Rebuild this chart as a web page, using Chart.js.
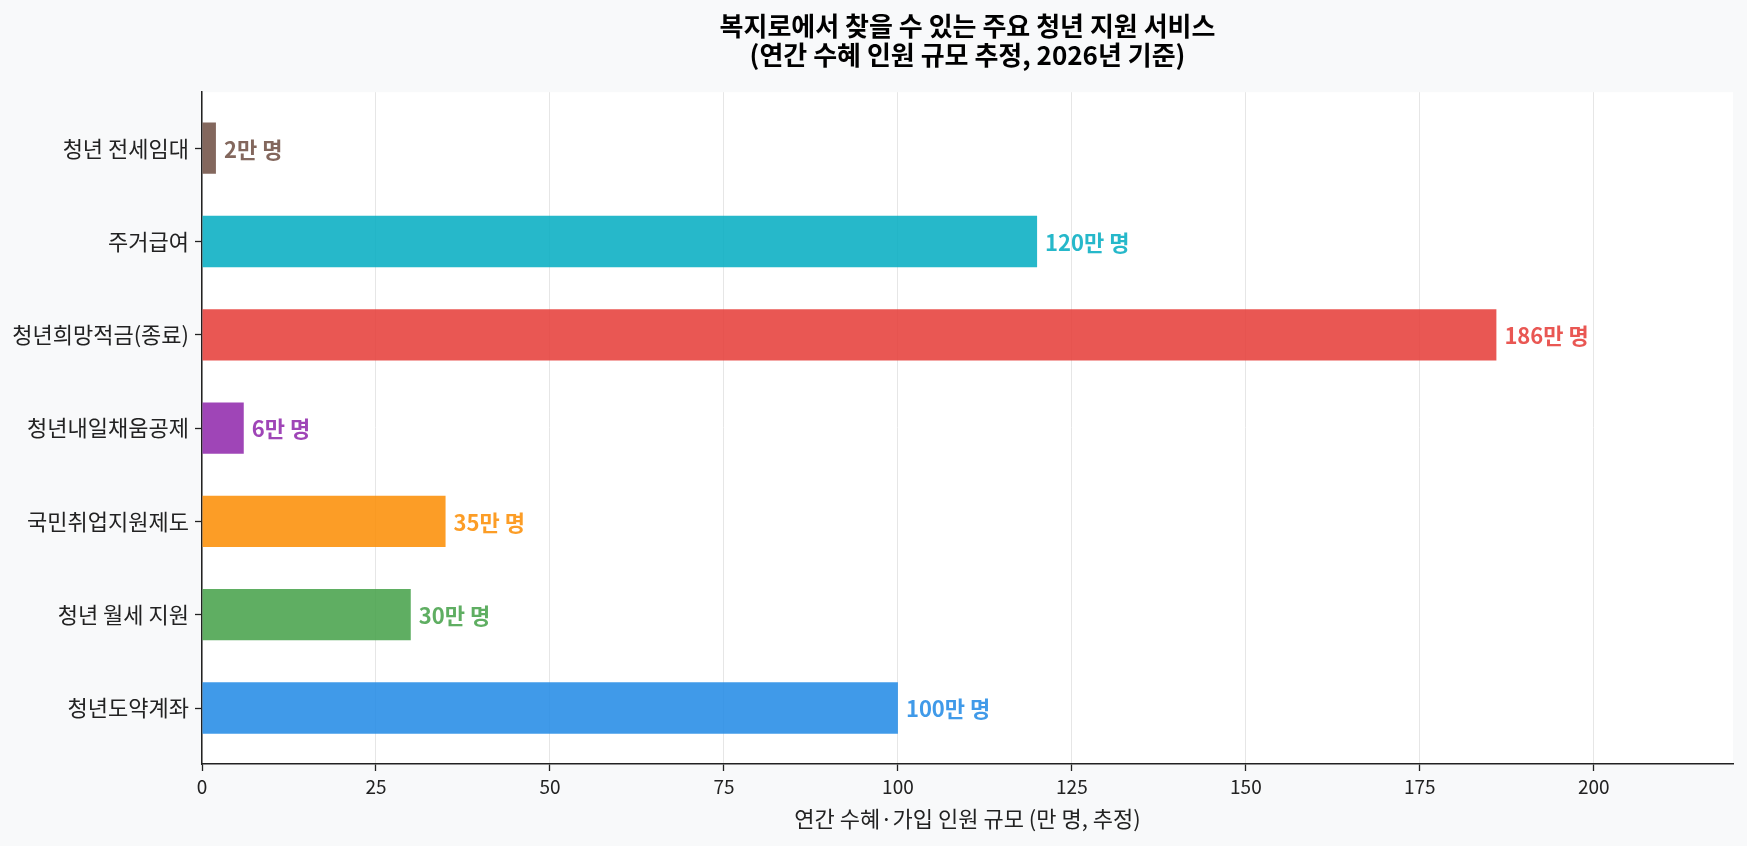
<!DOCTYPE html>
<html>
<head>
<meta charset="utf-8">
<script src="https://cdn.jsdelivr.net/npm/chart.js@4/dist/chart.umd.min.js"></script>
<style>
  html, body { margin: 0; padding: 0; background: #f8f9fa; }
  #wrap { width: 1747px; height: 846px; }
</style>
</head>
<body>
<div id="wrap"><canvas id="chart" width="1747" height="846"></canvas></div>
<script>
// top to bottom, as in the picture
let services = ['청년 전세임대', '주거급여', '청년희망적금(종료)', '청년내일채움공제', '국민취업지원제도', '청년 월세 지원', '청년도약계좌'];
let people = [2, 120, 186, 6, 35, 30, 100];
let baseColors = ['#6D4C41', '#00ACC1', '#E53935', '#8E24AA', '#FB8C00', '#43A047', '#1E88E5'];
let xTicks = [0, 25, 50, 75, 100, 125, 150, 175, 200];

const FONT = '"Noto Sans CJK KR", "Noto Sans", sans-serif';

function withAlpha(hex, a) {
  let n = parseInt(hex.slice(1), 16);
  return 'rgba(' + (n >> 16) + ',' + ((n >> 8) & 255) + ',' + (n & 255) + ',' + a + ')';
}
let barColors = baseColors.map(c => withAlpha(c, 0.85));

// white plot area on grey page
const plotBg = {
  id: 'plotBg',
  beforeDraw(chart) {
    let ctx = chart.ctx, a = chart.chartArea;
    ctx.save();
    ctx.fillStyle = '#f8f9fa';
    ctx.fillRect(0, 0, chart.width, chart.height);
    ctx.fillStyle = '#ffffff';
    ctx.fillRect(a.left, a.top, a.right - a.left, a.bottom - a.top);
    ctx.restore();
  }
};

const valueLabels = {
  id: 'valueLabels',
  afterDatasetsDraw(chart) {
    let ctx = chart.ctx;
    let meta = chart.getDatasetMeta(0);
    ctx.save();
    ctx.font = 'bold 22px ' + FONT;
    ctx.textBaseline = 'middle';
    ctx.textAlign = 'left';
    meta.data.forEach((bar, i) => {
      ctx.fillStyle = barColors[i];
      ctx.fillText(people[i] + '만 명', bar.x + 8, bar.y + 1);
    });
    ctx.restore();
  }
};

let myChart = new Chart(document.getElementById('chart'), {
  type: 'bar',
  data: {
    datasets: [{
      data: people.map((v, i) => ({ x: v, y: i })),
      backgroundColor: barColors,
      borderWidth: 0,
      categoryPercentage: 1,
      barPercentage: 0.55
    }]
  },
  options: {
    indexAxis: 'y',
    responsive: false,
    animation: false,
    layout: { padding: { left: 0, right: 14, top: 0, bottom: 0 } },
    plugins: {
      legend: { display: false },
      tooltip: { enabled: false },
      title: {
        display: true,
        fullSize: false,
        text: ['복지로에서 찾을 수 있는 주요 청년 지원 서비스', '(연간 수혜 인원 규모 추정, 2026년 기준)'],
        color: '#000',
        font: { family: FONT, size: 26, weight: 'bold', lineHeight: 1.1 },
        padding: { top: 12, bottom: 23 }
      }
    },
    scales: {
      x: {
        type: 'linear',
        min: 0,
        max: 220,
        afterBuildTicks: s => { s.ticks = xTicks.map(v => ({ value: v })); },
        afterFit: s => { s.height = 82; },
        grid: { color: '#e6e6e6', lineWidth: 1, tickColor: '#222', tickLength: 7, tickWidth: 1.3 },
        border: { color: '#222', width: 1.5 },
        ticks: { color: '#222', font: { family: FONT, size: 19 }, padding: 4 },
        title: {
          display: true,
          text: '연간 수혜·가입 인원 규모 (만 명, 추정)',
          color: '#222',
          font: { family: FONT, size: 22 },
          padding: { top: 0, bottom: 14 }
        }
      },
      y: {
        type: 'linear',
        reverse: true,
        offset: false,
        min: -0.6,
        max: services.length - 0.4,
        afterBuildTicks: s => { s.ticks = services.map((_, i) => ({ value: i })); },
        afterFit: s => { s.width = 202; },
        grid: { offset: false, drawOnChartArea: false, tickColor: '#222', tickLength: 7, tickWidth: 1.3 },
        border: { color: '#222', width: 1.5 },
        ticks: {
          color: '#222',
          font: { family: FONT, size: 22 },
          padding: 6,
          callback: v => services[v]
        }
      }
    }
  },
  plugins: [plotBg, valueLabels]
});
</script>
</body>
</html>
